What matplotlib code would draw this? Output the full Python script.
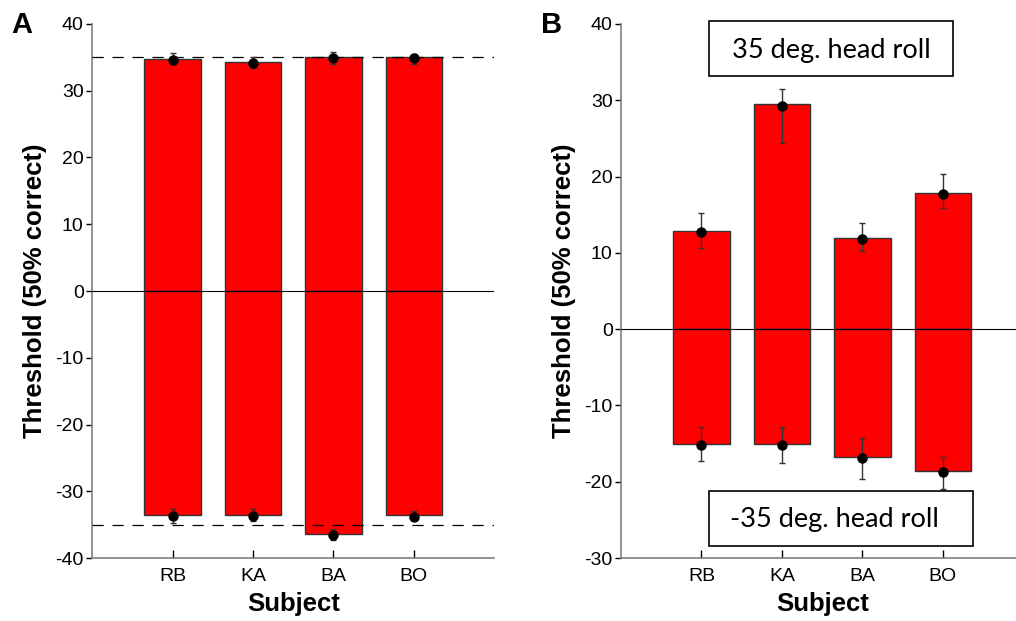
import numpy as np
import matplotlib

matplotlib.use("Agg")
import matplotlib.pyplot as plt
from matplotlib.patches import Rectangle

plt.rcParams["font.family"] = ["Liberation Sans", "DejaVu Sans"]
plt.rcParams["axes.unicode_minus"] = False

SUBJECTS = ["RB", "KA", "BA", "BO"]

# Panel A: thresholds, +35 / -35 deg. head roll (same ~35 deg. level)
A_POS_BAR = [34.7, 34.3, 35.0, 35.0]
A_POS_MEAN = [34.6, 34.2, 34.85, 34.85]
A_POS_LO = [34.0, 33.4, 34.0, 34.0]
A_POS_HI = [35.7, 35.0, 35.75, 35.45]
A_NEG_BAR = [-33.6, -33.6, -36.4, -33.6]
A_NEG_MEAN = [-33.7, -33.7, -36.6, -33.8]
A_NEG_LO = [-34.7, -34.5, -37.3, -34.3]
A_NEG_HI = [-32.7, -32.7, -35.6, -32.9]

# Panel B
B_POS_BAR = [12.9, 29.45, 12.0, 17.8]
B_POS_MEAN = [12.75, 29.3, 11.8, 17.7]
B_POS_LO = [10.6, 24.4, 10.2, 15.9]
B_POS_HI = [15.2, 31.45, 13.9, 20.3]
B_NEG_BAR = [-15.1, -15.1, -16.7, -18.6]
B_NEG_MEAN = [-15.2, -15.2, -16.9, -18.7]
B_NEG_LO = [-17.3, -17.6, -19.7, -20.9]
B_NEG_HI = [-12.8, -12.8, -14.3, -16.7]

RED = "#ff0000"
GREY = "#808080"


def draw_bars(ax, bars, mean, lo, hi):
    x = np.arange(1, len(SUBJECTS) + 1)
    mean = np.array(mean)
    yerr = [mean - np.array(lo), np.array(hi) - mean]
    ax.bar(x, bars, width=0.7, color=RED, edgecolor="#333333", linewidth=1.0, zorder=2)
    ax.errorbar(x, mean, yerr=yerr, fmt="o", color="black", ecolor="#333333",
                elinewidth=1.0, capsize=2.5, capthick=1.0, markersize=6.5, zorder=5)


def style_axes(ax, ylim, yticks):
    ax.set_xlim(0, 5)
    ax.set_ylim(*ylim)
    ax.set_yticks(yticks)
    ax.set_xticks(range(1, 5))
    ax.set_xticklabels(SUBJECTS)
    for s in ("top", "right"):
        ax.spines[s].set_visible(False)
    for s in ("left", "bottom"):
        ax.spines[s].set_color(GREY)
        ax.spines[s].set_linewidth(1.2)
    ax.tick_params(axis="y", direction="out", length=4, width=1, color="black",
                   labelsize=14, pad=2)
    ax.tick_params(axis="x", direction="in", length=6, width=1, color="black",
                   labelsize=14, pad=7)
    ax.set_xlabel("Subject", fontsize=18.5, fontweight="bold", labelpad=5)
    ax.set_ylabel("Threshold (50% correct)", fontsize=18.5, fontweight="bold", labelpad=6)
    ax.axhline(0, color="black", linewidth=0.8, zorder=4)


fig = plt.figure(figsize=(10.16, 6.21), dpi=100)
axA = fig.add_axes([0.0906, 0.1014, 0.396, 0.86])
axB = fig.add_axes([0.6112, 0.1014, 0.396, 0.86])

# Panel A
draw_bars(axA, A_POS_BAR, A_POS_MEAN, A_POS_LO, A_POS_HI)
draw_bars(axA, A_NEG_BAR, A_NEG_MEAN, A_NEG_LO, A_NEG_HI)
style_axes(axA, (-40, 40), np.arange(-40, 41, 10))
for lvl in (35, -35):
    axA.axhline(lvl, color="black", linewidth=0.9, dashes=(9, 7), zorder=4)

# Panel B
draw_bars(axB, B_POS_BAR, B_POS_MEAN, B_POS_LO, B_POS_HI)
draw_bars(axB, B_NEG_BAR, B_NEG_MEAN, B_NEG_LO, B_NEG_HI)
style_axes(axB, (-30, 40), np.arange(-30, 41, 10))

box_font = ["Lato", "DejaVu Sans"]
axB.add_patch(Rectangle((1.09, 33.2), 3.04, 7.2, facecolor="white", edgecolor="black",
                        linewidth=1.2, clip_on=False, zorder=6))
axB.text(2.61, 36.5, "35 deg. head roll", ha="center", va="center", fontsize=19.5,
         family=box_font, zorder=7)
axB.add_patch(Rectangle((1.09, -28.4), 3.29, 7.2, facecolor="white", edgecolor="black",
                        linewidth=1.2, clip_on=False, zorder=6))
axB.text(1.35, -25.0, "-35 deg. head roll", ha="left", va="center", fontsize=19.5,
         family=box_font, zorder=7)

fig.text(0.021, 0.96, "A", fontsize=21, fontweight="bold", ha="center", va="center")
fig.text(0.543, 0.96, "B", fontsize=21, fontweight="bold", ha="center", va="center")

fig.savefig("out.png", dpi=100)
